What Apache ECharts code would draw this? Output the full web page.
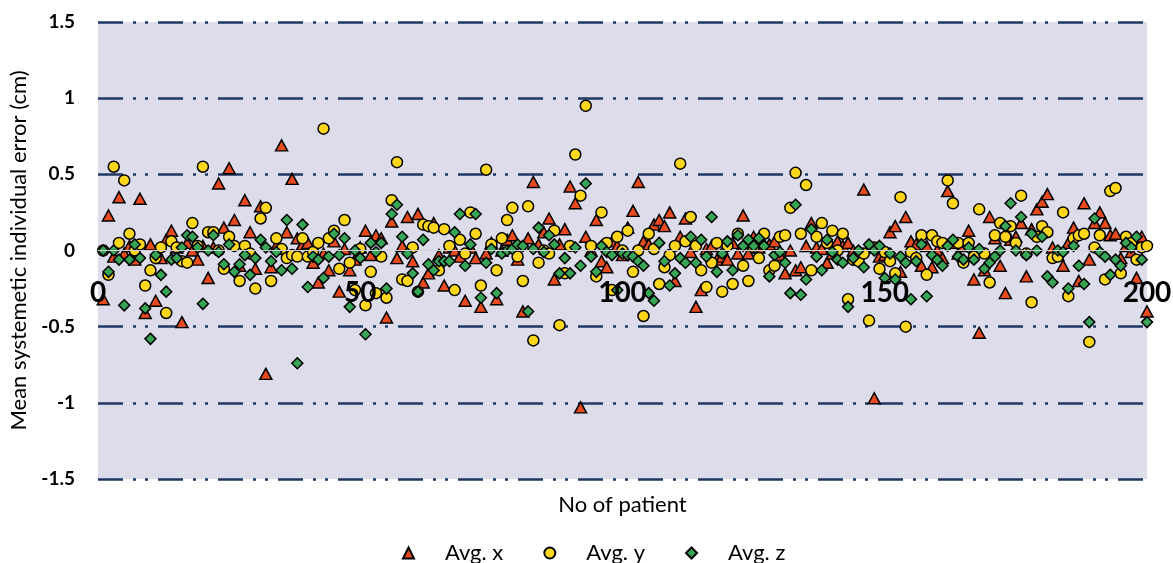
<!DOCTYPE html>
<html>
<head>
<meta charset="utf-8">
<script src="https://cdn.jsdelivr.net/npm/echarts@6/dist/echarts.min.js"></script>
<style>
  html, body { margin: 0; padding: 0; background: #fff; }
  #chart { width: 1173px; height: 563px; }
</style>
</head>
<body>
<div id="chart"></div>
<script>
// 每位患者的平均系统误差 (cm)，第 i 个值对应患者 i+1
const avgX = [
  -0.32, 0.23, -0.04, 0.35, -0.02, 0.03, -0.06, 0.34, -0.41, 0.04,
  -0.33, -0.05, 0.07, 0.13, 0.02, -0.47, 0.05, 0.00, -0.06, 0.03,
  -0.18, 0.02, 0.44, 0.15, 0.54, 0.20, -0.10, 0.33, 0.12, -0.12,
  0.29, -0.81, -0.11, 0.03, 0.69, 0.12, 0.47, 0.08, 0.04, 0.05,
  -0.08, -0.21, -0.02, -0.13, 0.06, -0.27, 0.01, -0.13, -0.06, 0.02,
  0.13, -0.03, 0.10, 0.08, -0.44, 0.19, -0.05, 0.03, 0.22, -0.07,
  0.24, -0.21, -0.15, 0.18, -0.03, -0.23, 0.02, 0.00, -0.04, -0.33,
  0.02, -0.05, -0.37, -0.02, 0.05, -0.32, 0.00, 0.07, 0.10, -0.06,
  -0.40, 0.08, 0.45, 0.04, 0.12, 0.21, -0.19, 0.04, 0.14, 0.42,
  0.31, -1.03, 0.09, 0.00, 0.20, -0.07, -0.11, 0.06, 0.03, -0.03,
  0.15, 0.26, 0.45, 0.06, 0.04, 0.17, 0.20, 0.16, 0.25, -0.20,
  0.09, 0.21, -0.01, -0.37, -0.26, 0.01, 0.03, -0.06, -0.04, -0.06,
  0.05, -0.02, 0.23, -0.02, 0.09, 0.02, 0.04, 0.04, 0.06, -0.03,
  -0.15, 0.00, -0.13, -0.11, 0.03, 0.18, 0.02, 0.01, -0.08, -0.02,
  0.06, 0.03, 0.05, 0.00, -0.06, 0.40, 0.02, -0.97, -0.04, -0.03,
  0.12, 0.16, -0.14, 0.22, 0.06, 0.04, -0.10, 0.03, -0.11, 0.00,
  -0.05, 0.39, 0.05, -0.02, 0.03, 0.13, -0.19, -0.54, -0.13, 0.22,
  0.08, -0.10, -0.28, 0.07, 0.09, 0.18, -0.17, 0.14, 0.27, 0.32,
  0.37, 0.02, -0.03, -0.10, 0.05, 0.15, -0.20, 0.31, -0.06, 0.18,
  0.25, 0.18, 0.10, 0.11, -0.05, 0.03, -0.01, -0.18, 0.09, -0.40
];

const avgY = [
  0.00, -0.16, 0.55, 0.05, 0.46, 0.11, 0.00, 0.04, -0.23, -0.13,
  -0.05, 0.02, -0.41, 0.06, 0.02, -0.07, -0.08, 0.18, 0.03, 0.55,
  0.12, 0.12, 0.00, -0.12, 0.09, 0.03, -0.20, 0.03, -0.02, -0.25,
  0.21, 0.28, -0.20, 0.08, 0.01, -0.05, -0.03, -0.04, 0.08, -0.04,
  -0.01, 0.05, 0.80, 0.08, 0.13, -0.12, 0.20, -0.08, -0.26, 0.01,
  -0.36, -0.14, -0.28, -0.04, -0.31, 0.33, 0.58, -0.19, -0.20, 0.02,
  -0.27, 0.17, 0.16, 0.15, -0.13, 0.14, 0.03, -0.26, 0.07, -0.02,
  0.25, 0.11, -0.23, 0.53, 0.04, -0.13, 0.08, 0.20, 0.28, -0.04,
  -0.20, 0.29, -0.59, -0.08, 0.00, -0.02, 0.13, -0.49, -0.15, 0.03,
  0.63, 0.36, 0.95, 0.03, -0.17, 0.25, 0.05, -0.26, 0.09, 0.00,
  0.13, -0.14, 0.00, -0.43, 0.11, 0.01, -0.22, -0.11, -0.03, 0.03,
  0.57, 0.06, 0.22, 0.03, -0.13, -0.24, -0.08, 0.05, -0.27, 0.03,
  -0.22, 0.11, -0.10, -0.20, 0.02, -0.05, 0.11, -0.13, -0.10, 0.09,
  0.10, 0.28, 0.51, 0.11, 0.43, -0.13, 0.09, 0.18, 0.05, 0.13,
  0.00, 0.11, -0.32, -0.06, -0.07, -0.02, -0.46, 0.02, -0.12, -0.01,
  -0.07, -0.15, 0.35, -0.50, -0.01, -0.05, 0.10, -0.16, 0.10, 0.06,
  0.05, 0.46, 0.31, 0.05, -0.08, 0.05, -0.04, 0.27, -0.02, -0.21,
  0.10, 0.18, 0.09, 0.16, 0.05, 0.36, -0.02, -0.34, 0.09, 0.16,
  0.12, -0.05, -0.04, 0.25, -0.30, 0.08, 0.10, 0.11, -0.60, 0.02,
  0.10, -0.19, 0.39, 0.41, -0.15, 0.09, 0.05, -0.06, 0.02, 0.03
];

const avgZ = [
  0.00, -0.14, 0.00, -0.06, -0.36, -0.06, 0.04, -0.05, -0.38, -0.58,
  -0.03, -0.16, -0.27, -0.06, -0.05, 0.02, 0.10, 0.09, 0.02, -0.35,
  0.00, 0.10, -0.01, -0.09, 0.04, -0.14, -0.09, -0.03, -0.16, -0.05,
  0.07, 0.02, -0.07, -0.01, -0.13, 0.20, -0.12, -0.74, 0.17, -0.24,
  -0.04, -0.06, -0.18, -0.04, 0.11, -0.03, 0.08, -0.37, 0.00, -0.05,
  -0.55, 0.05, -0.01, 0.05, -0.25, 0.24, 0.30, 0.09, -0.02, -0.15,
  -0.27, 0.07, -0.09, -0.13, -0.07, -0.07, -0.07, 0.12, 0.24, -0.10,
  0.04, 0.24, -0.31, -0.08, 0.01, -0.28, -0.02, 0.00, 0.01, 0.04,
  0.03, -0.40, 0.01, 0.15, -0.01, 0.10, 0.04, -0.15, -0.05, -0.15,
  0.02, -0.10, 0.44, -0.04, -0.14, 0.03, -0.01, -0.03, -0.26, -0.02,
  -0.03, -0.04, -0.07, -0.10, -0.28, -0.33, 0.05, -0.07, -0.23, -0.15,
  -0.05, -0.08, 0.09, -0.08, 0.07, -0.04, 0.22, -0.14, -0.02, 0.06,
  -0.13, 0.10, 0.03, 0.07, 0.03, 0.08, 0.03, -0.17, -0.03, -0.01,
  -0.08, -0.28, 0.30, -0.29, -0.19, 0.14, -0.04, -0.13, 0.07, -0.01,
  -0.06, -0.08, -0.37, -0.05, 0.00, -0.11, 0.04, 0.00, 0.03, -0.18,
  -0.02, -0.19, -0.04, -0.08, -0.32, -0.07, 0.04, -0.30, -0.03, -0.06,
  -0.10, 0.03, 0.07, -0.04, -0.06, 0.02, -0.06, 0.01, -0.12, -0.08,
  -0.04, 0.00, 0.16, 0.31, 0.00, 0.22, -0.03, 0.11, 0.00, 0.09,
  -0.17, -0.21, 0.00, -0.01, -0.25, 0.03, -0.10, -0.22, -0.47, 0.21,
  -0.01, -0.04, -0.16, -0.06, -0.10, 0.05, 0.02, 0.09, -0.06, -0.47
];

const seriesNames = ["Avg. x", "Avg. y", "Avg. z"];
const seriesSymbols = ["triangle", "circle", "diamond"];
const seriesColors = ["#E64A1E", "#FFD71A", "#36A556"];

// 患者编号从 1 开始
function toPoints(values) {
  return values.map((v, i) => [i + 1, v]);
}

const gridColor = "#1F3864";
const myChart = echarts.init(document.querySelector("#chart"));

const option = {
  animation: false,
  textStyle: { fontFamily: "Lato, 'Open Sans', sans-serif" },
  grid: {
    left: 98,
    right: 26,
    top: 22,
    bottom: 84,
    show: true,
    backgroundColor: "#DCDCEB",
    borderWidth: 0,
    containLabel: false,
    outerBoundsMode: "none",
  },
  legend: {
    top: 537,
    left: 397,
    itemWidth: 11,
    itemHeight: 11,
    itemGap: 40,
    textStyle: { fontSize: 22, color: "#000", padding: [0, 0, 0, 26] },
    data: seriesNames.map((name, i) => ({ name, icon: seriesSymbols[i] })),
  },
  xAxis: {
    type: "value",
    min: 0,
    max: 200,
    interval: 50,
    // 刻度文字压在散点上方
    z: 3,
    // x 轴画在 y=0 处（网格底部往上 228.5px）
    position: "bottom",
    offset: -228.5,
    name: "No of patient",
    nameLocation: "middle",
    nameGap: 243,
    nameTextStyle: { fontSize: 22, color: "#000" },
    axisLine: { show: true, onZero: false, lineStyle: { color: "#CFCFD8", width: 1 } },
    axisTick: { show: false },
    axisLabel: { fontSize: 28, fontWeight: "bold", color: "#000", margin: 28 },
    splitLine: { show: false },
  },
  yAxis: {
    type: "value",
    min: -1.5,
    max: 1.5,
    interval: 0.5,
    name: "Mean systemetic individual error (cm)",
    nameLocation: "middle",
    nameGap: 68,
    nameTextStyle: { fontSize: 22, color: "#000" },
    axisLine: { show: false },
    axisTick: { show: false },
    axisLabel: { fontSize: 19, fontWeight: "bold", color: "#000", margin: 23 },
    splitLine: {
      show: true,
      lineStyle: {
        // 零线处不画虚线，由 x 轴线代替
        color: [gridColor, gridColor, gridColor, "rgba(0,0,0,0)", gridColor, gridColor, gridColor],
        width: 2.5,
        type: [25, 10, 3, 9, 3, 10],
      },
    },
  },
  series: [avgX, avgY, avgZ].map((values, i) => ({
    name: seriesNames[i],
    type: "scatter",
    symbol: seriesSymbols[i],
    symbolSize: i === 0 ? [12, 11] : 11,
    data: toPoints(values),
    itemStyle: { color: seriesColors[i], borderColor: "#000", borderWidth: 1.5, opacity: 1 },
    emphasis: { disabled: true },
  })),
};

myChart.setOption(option);
</script>
</body>
</html>
